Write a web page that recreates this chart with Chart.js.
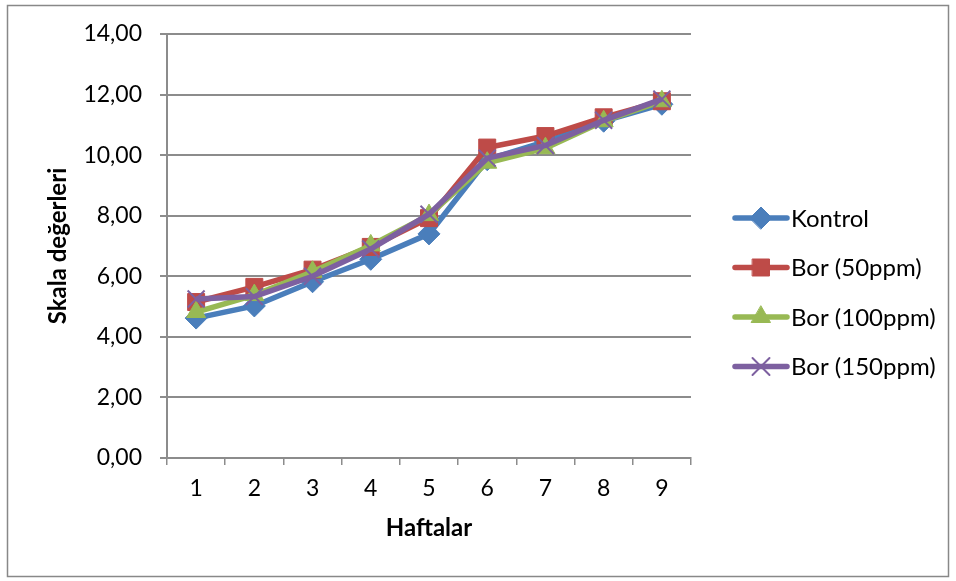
<!DOCTYPE html>
<html>
<head>
<meta charset="utf-8">
<script src="https://cdn.jsdelivr.net/npm/chart.js@4/dist/chart.umd.min.js"></script>
<style>
  html, body { margin: 0; padding: 0; background: #fff; }
  #wrap { width: 956px; height: 581px; }
</style>
</head>
<body>
<div id="wrap"><canvas id="c" width="956" height="581"></canvas></div>
<script>
// Weekly scale values per treatment
const weeks = ['1', '2', '3', '4', '5', '6', '7', '8', '9'];
const kontrol = [4.62, 5.02, 5.82, 6.56, 7.40, 9.85, 10.45, 11.12, 11.68];
const bor50   = [5.15, 5.65, 6.22, 6.97, 7.92, 10.25, 10.63, 11.25, 11.78];
const bor100  = [4.82, 5.38, 6.15, 7.02, 8.02, 9.75, 10.23, 11.12, 11.78];
const bor150  = [5.25, 5.33, 6.00, 6.90, 8.05, 9.90, 10.32, 11.15, 11.85];
const seriesNames = ['Kontrol', 'Bor (50ppm)', 'Bor (100ppm)', 'Bor (150ppm)'];
const yTicks = [0, 2, 4, 6, 8, 10, 12, 14];

const FONT = 'Lato, "Noto Sans", sans-serif';
const GRID = '#8c8c8c';

// later series are painted over earlier ones
function series(label, data, color, style, radius, order) {
  return {
    label, data, order,
    borderColor: color, backgroundColor: color,
    pointBackgroundColor: color, pointBorderColor: color,
    borderWidth: 5.5, pointStyle: style, pointRadius: radius,
    pointBorderWidth: style === 'crossRot' ? 2 : 1,
    pointHoverRadius: radius, tension: 0, fill: false
  };
}

// Outer frame around the whole figure
const framePlugin = {
  id: 'frame',
  afterDraw(chart) {
    const ctx = chart.ctx;
    ctx.save();
    ctx.strokeStyle = '#888';
    ctx.lineWidth = 1.5;
    ctx.strokeRect(7.5, 5.5, 941, 571);
    ctx.restore();
  }
};

// Legend drawn as line + marker samples at the right side
const sideLegend = {
  id: 'sideLegend',
  afterDraw(chart) {
    const ctx = chart.ctx;
    ctx.save();
    chart.data.datasets.forEach((ds, i) => {
      const y = 218 + i * 49.5;
      ctx.strokeStyle = ds.borderColor;
      ctx.lineWidth = 5.5;
      ctx.lineCap = 'round';
      ctx.beginPath();
      ctx.moveTo(735, y);
      ctx.lineTo(787, y);
      ctx.stroke();
      ctx.fillStyle = ds.backgroundColor;
      ctx.lineWidth = ds.pointBorderWidth;
      Chart.helpers.drawPoint(ctx, {
        pointStyle: ds.pointStyle, radius: ds.pointRadius,
        rotation: 0, borderWidth: ds.pointBorderWidth
      }, 761, y);
      ctx.fillStyle = '#000';
      ctx.font = '24px ' + FONT;
      ctx.textBaseline = 'middle';
      ctx.textAlign = 'left';
      ctx.fillText(ds.label, 791, y + 1);
    });
    ctx.restore();
  }
};

new Chart(document.getElementById('c'), {
  type: 'line',
  data: {
    labels: weeks,
    datasets: [
      series(seriesNames[0], kontrol, '#4a7ebb', 'rectRot', 11, 4),
      series(seriesNames[1], bor50,   '#be4b48', 'rect', 12, 3),
      series(seriesNames[2], bor100,  '#98b954', 'triangle', 11, 2),
      series(seriesNames[3], bor150,  '#7d60a0', 'crossRot', 12, 1)
    ]
  },
  options: {
    responsive: false,
    animation: false,
    layout: { padding: { left: 40, right: 265, top: 34, bottom: 34 } },
    plugins: { legend: { display: false }, tooltip: { enabled: false } },
    scales: {
      x: {
        offset: true,
        grid: { offset: true, drawOnChartArea: false, drawTicks: true, tickLength: 7, color: GRID, lineWidth: 1.5 },
        border: { color: GRID, width: 2 },
        ticks: { color: '#000', font: { family: FONT, size: 23 }, padding: 10, maxRotation: 0 },
        title: { display: true, text: 'Haftalar', color: '#000', font: { family: FONT, size: 24, weight: 'bold' }, padding: { top: 8 } },
        afterFit(scale) { scale.height = 581 - 458 - 34; }
      },
      y: {
        min: 0, max: 14,
        afterBuildTicks(scale) { scale.ticks = yTicks.map(v => ({ value: v })); },
        grid: { color: GRID, lineWidth: 2, tickLength: 7 },
        border: { color: GRID, width: 2 },
        ticks: {
          color: '#000', font: { family: FONT, size: 23 }, padding: 18,
          callback: v => v.toFixed(2).replace('.', ',')
        },
        title: { display: true, text: 'Skala değerleri', color: '#000', font: { family: FONT, size: 24, weight: 'bold' }, padding: { bottom: 6 } },
        afterFit(scale) { scale.width = 167 - 40; }
      }
    }
  },
  plugins: [framePlugin, sideLegend]
});
</script>
</body>
</html>
